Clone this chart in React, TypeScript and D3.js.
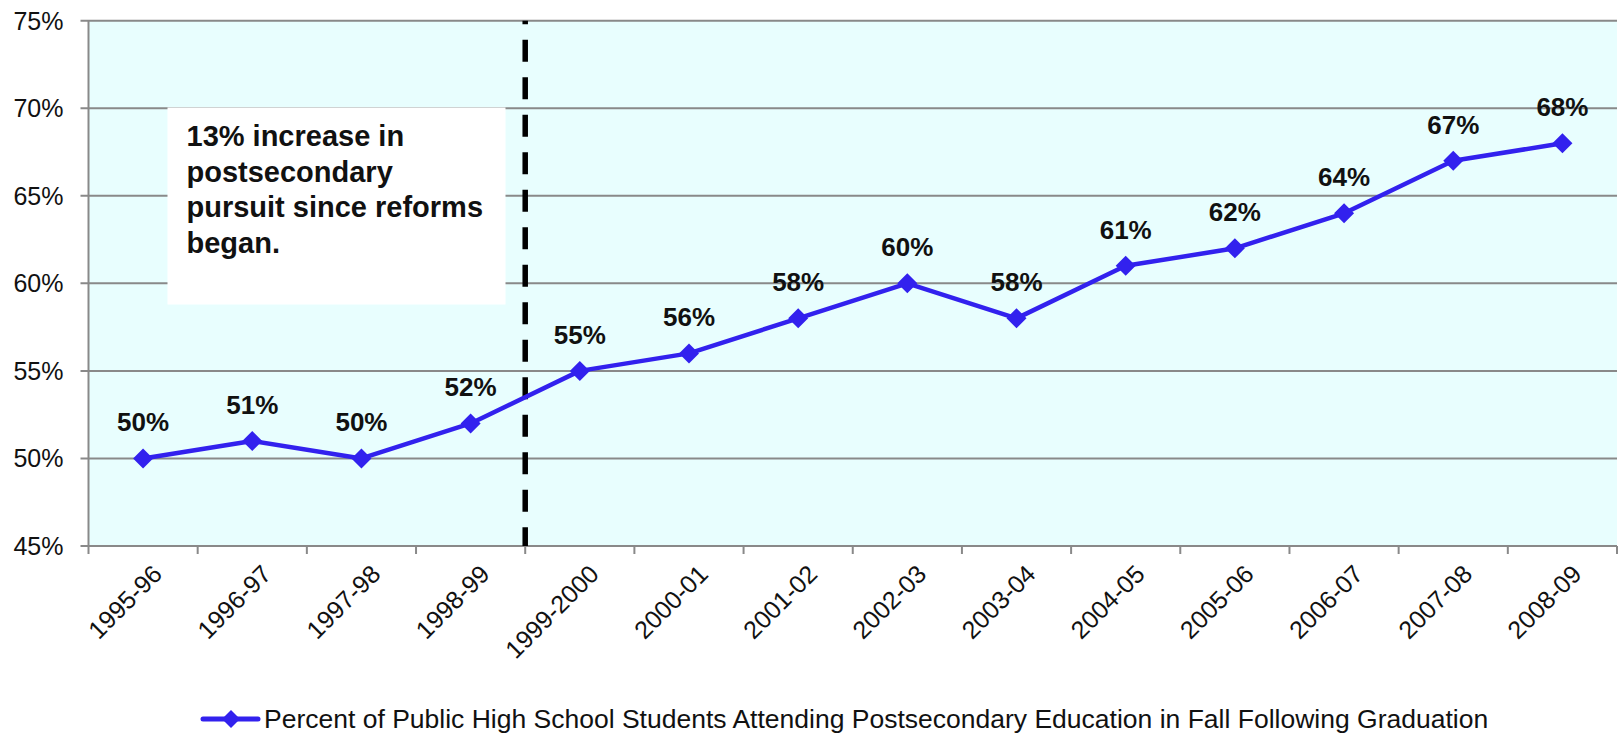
import React from 'react';
import * as d3 from 'd3';

const years = [
  '1995-96', '1996-97', '1997-98', '1998-99', '1999-2000', '2000-01', '2001-02',
  '2002-03', '2003-04', '2004-05', '2005-06', '2006-07', '2007-08', '2008-09',
];
const pctAttending = [50, 51, 50, 52, 55, 56, 58, 60, 58, 61, 62, 64, 67, 68];
const yTicks = [45, 50, 55, 60, 65, 70, 75];
const reformStart = '1999-2000';
const noteLines = ['13% increase in', 'postsecondary', 'pursuit since reforms', 'began.'];
const seriesName =
  'Percent of Public High School Students Attending Postsecondary Education in Fall Following Graduation';

const W = 1621;
const H = 733;
const FONT = 'Arial, "Liberation Sans", sans-serif';
const LINE = '#3221ee';
const GRID = '#898989';

const App: React.FC = () => {
  const x = d3.scaleBand<string>().domain(years).range([88.5, 1617]).padding(0);
  const y = d3.scaleLinear().domain([45, 75]).range([546, 20.7]);
  const cx = (d: string) => (x(d) || 0) + x.bandwidth() / 2;

  const line = d3
    .line<number>()
    .x((_, i) => cx(years[i]))
    .y((d) => y(d));

  const diamond = (px: number, py: number, r: number) =>
    `M${px},${py - r}L${px + r},${py}L${px},${py + r}L${px - r},${py}Z`;

  const [x0, x1] = x.range();
  const dashX = x(reformStart) || 0;

  return (
    <svg
      width={W}
      height={H}
      style={{ position: 'absolute', left: 0, top: 0, background: '#fff' }}
      fontFamily={FONT}
    >
      <rect x={x0} y={y(75)} width={x1 - x0} height={y(45) - y(75)} fill="#e8fefe" />

      {yTicks.map((t) => (
        <g key={t}>
          <line x1={x0 - 8} x2={x1} y1={y(t)} y2={y(t)} stroke={GRID} strokeWidth={2} />
          <text x={63.5} y={y(t)} dy="0.36em" textAnchor="end" fontSize={25} fill="#111">
            {t}%
          </text>
        </g>
      ))}

      <line x1={x0} x2={x0} y1={y(75)} y2={y(45)} stroke={GRID} strokeWidth={2} />

      {years.concat(['']).map((d, i) => {
        const tx = x0 + i * x.bandwidth();
        return <line key={i} x1={tx} x2={tx} y1={y(45)} y2={y(45) + 8} stroke={GRID} strokeWidth={2} />;
      })}

      {years.map((d) => (
        <text
          key={d}
          transform={`translate(${cx(d) + 8},${y(45) + 17}) rotate(-45)`}
          dy="0.71em"
          textAnchor="end"
          fontSize={25}
          fill="#111"
        >
          {d}
        </text>
      ))}

      <rect x={167.5} y={107.5} width={338} height={197} fill="#fff" />
      {noteLines.map((t, i) => (
        <text key={i} x={186.5} y={146 + i * 35.5} fontSize={29} fontWeight="bold" fill="#111">
          {t}
        </text>
      ))}

      <line
        x1={dashX}
        x2={dashX}
        y1={y(75)}
        y2={y(45)}
        stroke="#000"
        strokeWidth={5.5}
        strokeDasharray="22,15.5"
        strokeDashoffset={18.5}
      />

      <path d={line(pctAttending) || ''} fill="none" stroke={LINE} strokeWidth={4.5} strokeLinejoin="round" />
      {pctAttending.map((v, i) => (
        <g key={i}>
          <path d={diamond(cx(years[i]), y(v), 10)} fill={LINE} />
          <text
            x={cx(years[i])}
            y={y(v) - 27}
            textAnchor="middle"
            fontSize={26}
            fontWeight="bold"
            fill="#111"
          >
            {v}%
          </text>
        </g>
      ))}

      <line x1={203} x2={258} y1={719} y2={719} stroke={LINE} strokeWidth={5} strokeLinecap="round" />
      <path d={diamond(231, 719, 9)} fill={LINE} />
      <text x={264} y={727.5} fontSize={26.5} fill="#111">
        {seriesName}
      </text>
    </svg>
  );
};

export default App;
